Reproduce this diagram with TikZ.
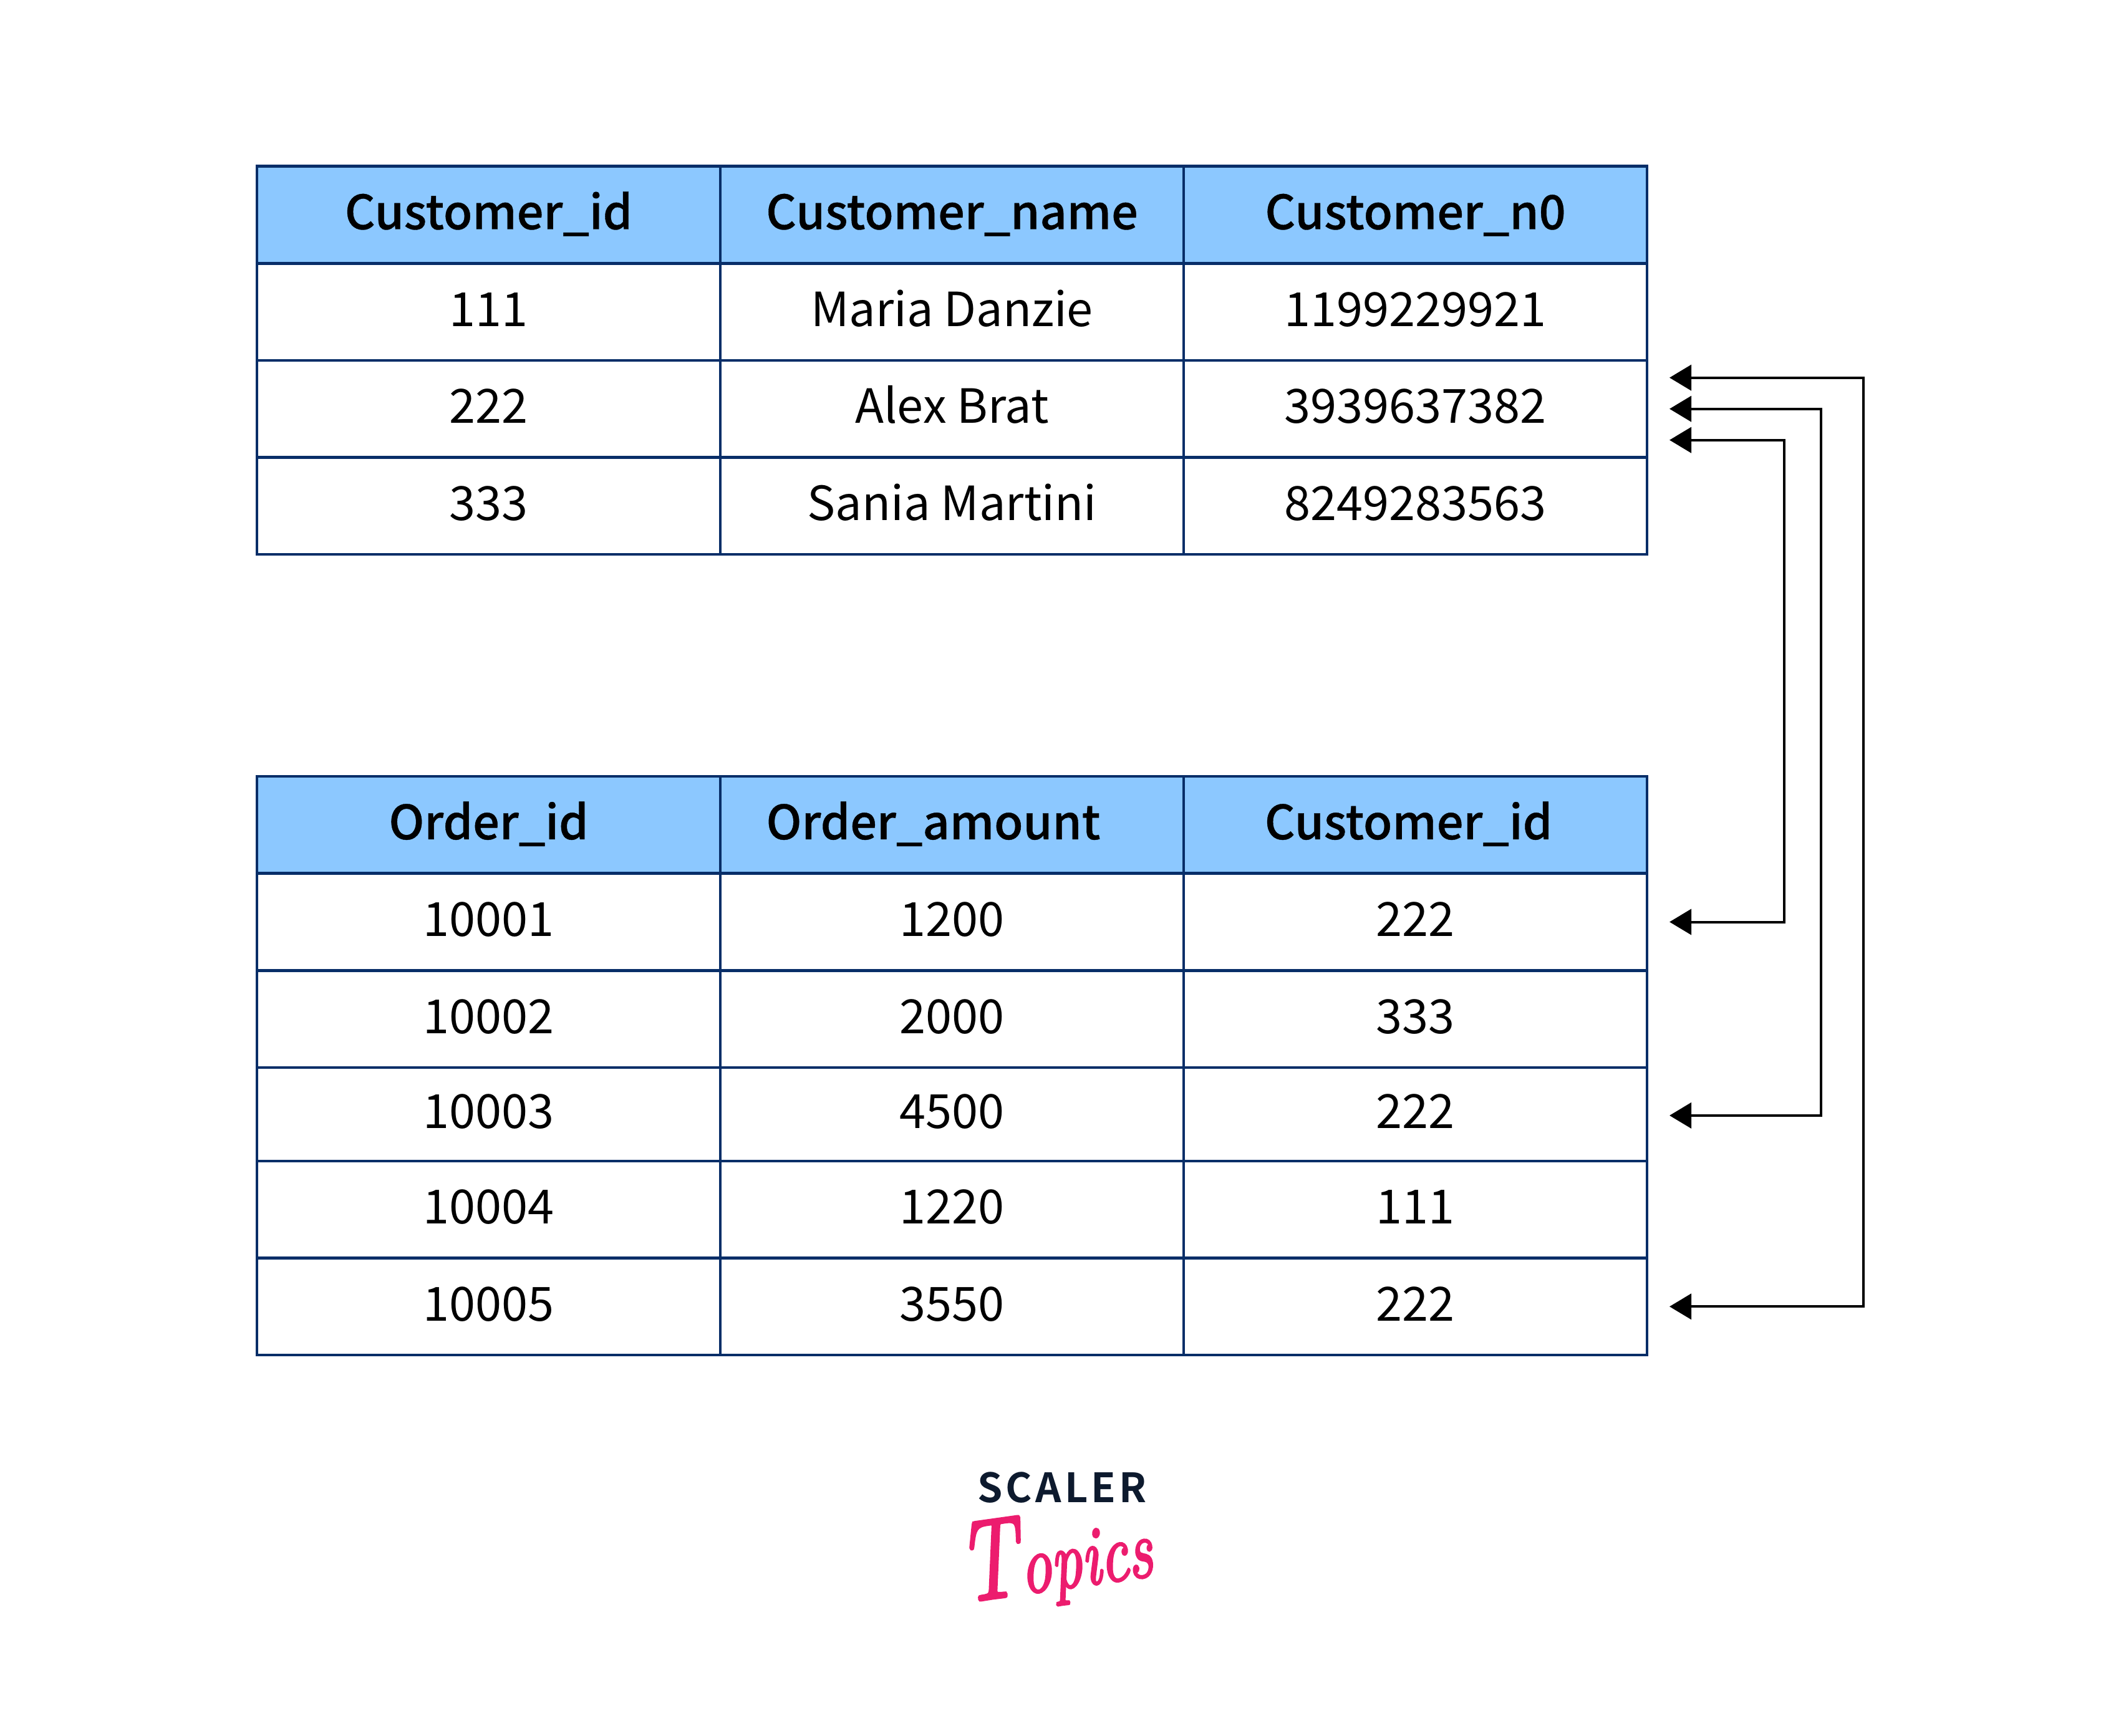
\documentclass[tikz,border=0pt]{standalone}
\usepackage{fontspec}
\newfontfamily\topicsfont{Latin Modern Roman}[ItalicFeatures={FakeBold=3}]
\newfontfamily\logofont{Noto Sans CJK JP}[UprightFont={* Bold},LetterSpace=8]
\setmainfont{Noto Sans CJK JP}[BoldFont={Noto Sans CJK JP Medium},BoldFeatures={FakeBold=0.5}]
\usepackage{tikz}
\usetikzlibrary{arrows.meta,positioning,calc}
\definecolor{gridblue}{RGB}{8,46,104}
\definecolor{headblue}{RGB}{140,200,255}
\definecolor{logonavy}{RGB}{13,26,46}
\definecolor{logopink}{RGB}{236,28,110}

\tikzset{
    cell/.style={rectangle, draw=gridblue, line width=0.045cm, fill=white, outer sep=0pt, inner sep=0pt,
        minimum width=7.43cm, minimum height=1.556cm, text height=0.7cm, text depth=0.24cm,
        font=\fontsize{21.5pt}{24pt}\selectfont},
    headcell/.style={cell, fill=headblue, font=\fontsize{21.5pt}{24pt}\selectfont\bfseries},
    link/.style={{Triangle[length=0.35cm,width=0.41cm]}-{Triangle[length=0.35cm,width=0.41cm]}, line width=0.04cm, black}
}

\begin{document}
\begin{tikzpicture}[node distance=0pt]
    \useasboundingbox (0,0) rectangle (34.01,-27.84);

    % customer table
    \node (cid) [headcell] at (7.835,-3.445) {Customer\_id};
    \node (cname) [headcell, right=of cid] {Customer\_name};
    \node (cno) [headcell, right=of cname] {Customer\_n0};

    \node (cidA) [cell, below=of cid] {111};
    \node (cnameA) [cell, right=of cidA] {Maria Danzie};
    \node (cnoA) [cell, right=of cnameA] {1199229921};

    \node (cidB) [cell, below=of cidA] {222};
    \node (cnameB) [cell, right=of cidB] {Alex Brat};
    \node (cnoB) [cell, right=of cnameB] {3939637382};

    \node (cidC) [cell, below=of cidB] {333};
    \node (cnameC) [cell, right=of cidC] {Sania Martini};
    \node (cnoC) [cell, right=of cnameC] {8249283563};

    % order table
    \node (oid) [headcell, below=3.56cm of cidC] {Order\_id};
    \node (oamt) [headcell, right=of oid] {Order\_amount\hspace*{0.6cm}};
    \node (ocust) [headcell, right=of oamt] {Customer\_id\hspace*{0.22cm}};

    \node (oidA) [cell, below=of oid] {10001};
    \node (oamtA) [cell, right=of oidA] {1200};
    \node (ocustA) [cell, right=of oamtA] {222};

    \node (oidB) [cell, below=of oidA] {10002};
    \node (oamtB) [cell, right=of oidB] {2000};
    \node (ocustB) [cell, right=of oamtB] {333};

    \node (oidC) [cell, minimum height=1.5cm, below=of oidB] {10003};
    \node (oamtC) [cell, minimum height=1.5cm, right=of oidC] {4500};
    \node (ocustC) [cell, minimum height=1.5cm, right=of oamtC] {222};

    \node (oidD) [cell, below=of oidC] {10004};
    \node (oamtD) [cell, right=of oidD] {1220};
    \node (ocustD) [cell, right=of oamtD] {111};

    \node (oidE) [cell, below=of oidD] {10005};
    \node (oamtE) [cell, right=of oidE] {3550};
    \node (ocustE) [cell, right=of oamtE] {222};

    % arrows
    \coordinate (hookA) at ([xshift=0.36cm,yshift=0.5cm]cnoB.east);
    \coordinate (hookB) at ([xshift=0.36cm]cnoB.east);
    \coordinate (hookC) at ([xshift=0.36cm,yshift=-0.5cm]cnoB.east);
    \coordinate (endA) at ([xshift=0.36cm]ocustE.east);
    \coordinate (endB) at ([xshift=0.36cm,yshift=-0.02cm]ocustC.east);
    \coordinate (endC) at ([xshift=0.36cm]ocustA.east);
    \coordinate (railA) at ([xshift=3.47cm]ocustE.east);
    \coordinate (railB) at ([xshift=2.79cm,yshift=-0.02cm]ocustC.east);
    \coordinate (railC) at ([xshift=2.2cm]ocustA.east);

    \draw[link] (hookA) -| (railA) -- (endA);
    \draw[link] (hookB) -| (railB) -- (endB);
    \draw[link] (hookC) -| (railC) -- (endC);

    % logo
    \node (scaler) [text=logonavy, inner sep=0pt, font=\fontsize{18.4pt}{20pt}\logofont] at (17.03,-23.86) {SCALER};
    \node (topics) [text=logopink, inner sep=0pt, rotate=8, xscale=0.74, xshift=-0.3cm, below=0.1cm of scaler, font=\topicsfont\itshape\fontsize{38pt}{40pt}\selectfont] {\fontsize{52pt}{54pt}\selectfont T\kern1pt\fontsize{38pt}{40pt}\selectfont opics};
\end{tikzpicture}
\end{document}
